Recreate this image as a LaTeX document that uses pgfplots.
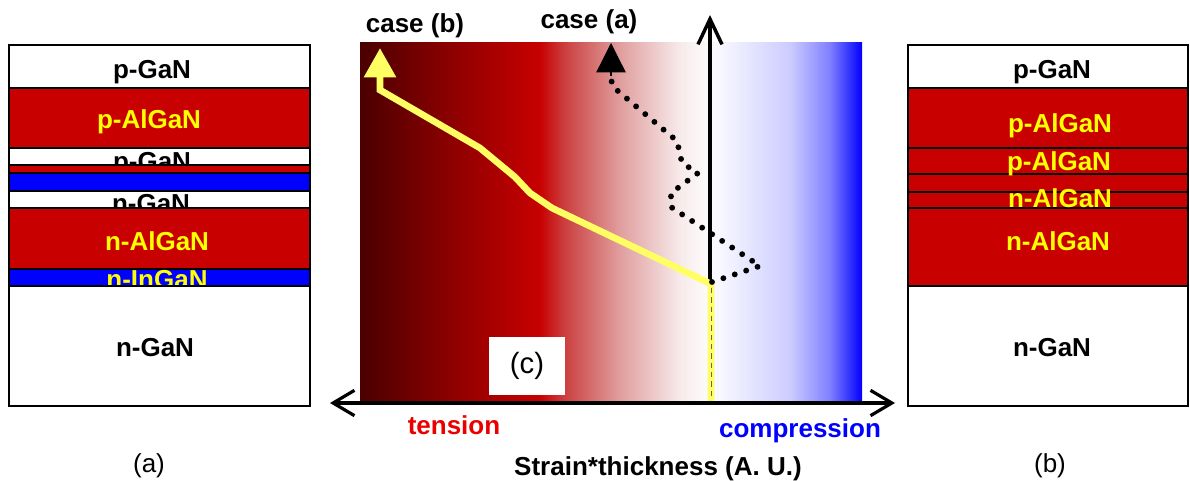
\documentclass[border=0pt]{standalone}
\usepackage{pgfplots}
\pgfplotsset{compat=1.18}
\usepackage{fontspec}
\setmainfont{Liberation Sans}
\usetikzlibrary{arrows.meta}

\definecolor{lred}{RGB}{200,0,0}
\definecolor{lblue}{RGB}{0,0,255}
\definecolor{lyellow}{RGB}{255,255,0}
\definecolor{pathyellow}{RGB}{255,255,100}
\definecolor{tensionred}{RGB}{235,0,0}

\pgfdeclarehorizontalshading{strain}{100bp}{
 rgb(0bp)=(0.29,0,0);
 rgb(25bp)=(0.29,0,0);
 rgb(34bp)=(0.55,0,0);
 rgb(42.9bp)=(0.784,0,0);
 rgb(45.4bp)=(0.80,0.25,0.25);
 rgb(50.9bp)=(0.88,0.62,0.62);
 rgb(56.9bp)=(0.97,0.92,0.92);
 rgb(59.4bp)=(0.99,0.98,0.98);
 rgb(60.9bp)=(0.97,0.97,1);
 rgb(67.8bp)=(0.80,0.80,1);
 rgb(71.8bp)=(0.50,0.50,1);
 rgb(75bp)=(0,0,1);
 rgb(100bp)=(0,0,1)}

\newcommand\layer[5]{\addplot[fill=#5, draw=black, line width=1.8pt] coordinates {(#1,#3) (#2,#3) (#2,#4) (#1,#4)} -- cycle;}
\newcommand\lab[4]{\node[anchor=base, text=#3, font=\bfseries\fontsize{19.5}{22}\selectfont, inner sep=0pt] at (axis cs:#1,#2) {#4};}

\begin{document}
\begin{tikzpicture}
\begin{axis}[
  width=892.5pt, height=360.75pt, scale only axis,
  xmin=0, xmax=1190, ymin=0, ymax=481, y dir=reverse,
  hide axis, clip=false]
\addplot[draw=none] coordinates {(0,0) (1190,481)};

% ---- left stack (a)
\layer{9}{310}{45}{88}{white}
\lab{152}{79}{black}{p-GaN}
\layer{9}{310}{88}{148}{lred}
\lab{149}{129}{lyellow}{p-AlGaN}
\layer{9}{310}{148}{165}{white}
\lab{152}{171}{black}{p-GaN}
\layer{9}{310}{165}{173}{lred}
\layer{9}{310}{173}{191}{lblue}
\layer{9}{310}{191}{208}{white}
\lab{151}{213}{black}{n-GaN}
\layer{9}{310}{208}{269}{lred}
\lab{157}{251}{lyellow}{n-AlGaN}
\layer{9}{310}{269}{286}{lblue}
\lab{157}{289}{lyellow}{n-InGaN}
\layer{9}{310}{286}{406}{white}
\lab{155}{357}{black}{n-GaN}

% ---- right stack (b)
\layer{908}{1188}{45}{88}{white}
\layer{908}{1188}{88}{148}{lred}
\layer{908}{1188}{148}{174}{lred}
\layer{908}{1188}{174}{192}{lred}
\layer{908}{1188}{192}{208}{lred}
\layer{908}{1188}{208}{286}{lred}
\layer{908}{1188}{286}{406}{white}
\lab{1052}{79}{black}{p-GaN}
\lab{1060}{133}{lyellow}{p-AlGaN}
\lab{1059}{171}{lyellow}{p-AlGaN}
\lab{1060}{208}{lyellow}{n-AlGaN}
\lab{1058}{251}{lyellow}{n-AlGaN}
\lab{1052}{357}{black}{n-GaN}

% ---- centre plot (c)
\addplot[draw=none, shade, shading=strain] coordinates {(360,43) (862,43) (862,402) (360,402)} -- cycle;
\addplot[black, line width=2.6pt, -{Straight Barb[length=19pt,width=18pt]}] coordinates {(710,285) (710,15)};
\addplot[pathyellow, line width=5pt, -{Triangle[length=22pt,width=23pt]}] coordinates {(711,402) (711,284) (552,208) (530,193) (515,177) (480,148) (380,90) (380,48)};
\addplot[black!60, line width=0.6pt, dash pattern=on 4pt off 3pt] coordinates {(711,288) (711,400)};
\addplot[black, line width=4.4pt, line cap=round, dash pattern=on 0pt off 9pt] coordinates {(712,282) (760,266) (671,207) (671,193) (698,173) (682,163) (677,141) (612,86) (611,74)};
\addplot[black, line width=1pt, -{Triangle[length=22pt,width=22pt]}] coordinates {(611,76) (611,43)};
\addplot[black, line width=2.4pt, {Straight Barb[length=16pt,width=19pt]}-{Straight Barb[length=16pt,width=19pt]}] coordinates {(330,403) (895,403)};

\node[fill=white, minimum width=57pt, minimum height=43.5pt, inner sep=0pt, font=\fontsize{22}{25}\selectfont] at (axis cs:527,366) {(c)};

\lab{415}{33}{black}{case (b)}
\lab{589}{29}{black}{case (a)}
\lab{454}{434}{tensionred}{tension}
\lab{800}{437}{lblue}{compression}
\lab{658}{475}{black}{Strain*thickness (A. U.)}
\node[anchor=base, font=\fontsize{19.5}{22}\selectfont, inner sep=0pt] at (axis cs:149,472) {(a)};
\node[anchor=base, font=\fontsize{19.5}{22}\selectfont, inner sep=0pt] at (axis cs:1050,472) {(b)};
\end{axis}
\end{tikzpicture}
\end{document}
